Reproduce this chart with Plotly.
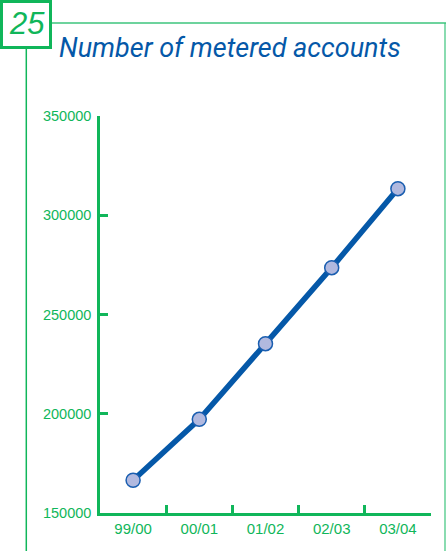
import plotly.graph_objects as go

years = ["99/00", "00/01", "01/02", "02/03", "03/04"]
accounts = [166500, 197200, 235300, 273600, 313400]
y_ticks = [150000, 200000, 250000, 300000, 350000]

W, H = 446, 551
L, R, T, B = 100, 15, 116, 38
PW, PH = W - L - R, H - T - B

GREEN = "#10b65a"
LGREEN = "#3cc47c"
BLUE = "#0558a8"

def px(x):
    return (x - L) / PW

def py(y):
    return 1 - (y - T) / PH

fig = go.Figure()
fig.add_trace(go.Scatter(
    x=years, y=accounts, mode="lines+markers",
    line=dict(color=BLUE, width=5.5),
    marker=dict(size=14, color="#b1b9df", line=dict(color="#1a5eb0", width=1.5)),
    cliponaxis=False, showlegend=False,
))

shapes = [
    dict(type="rect", xref="paper", yref="paper", x0=px(1.5), x1=px(50.5), y0=py(1.5), y1=py(47.5),
         line=dict(color=GREEN, width=3)),
    dict(type="line", xref="paper", yref="paper", x0=px(52), x1=px(446), y0=py(23), y1=py(23),
         line=dict(color=LGREEN, width=1.5)),
    dict(type="line", xref="paper", yref="paper", x0=px(445), x1=px(445), y0=py(23), y1=py(551),
         line=dict(color=LGREEN, width=1.2)),
    dict(type="line", xref="paper", yref="paper", x0=px(26.3), x1=px(26.3), y0=py(49), y1=py(551),
         line=dict(color=GREEN, width=1.5)),
]

annotations = [
    dict(text="25", xref="paper", yref="paper", x=px(27), y=py(23), xanchor="center", yanchor="middle",
         showarrow=False, font=dict(family="Liberation Sans", size=31, color=GREEN, style="italic")),
    dict(text="Number of metered accounts", xref="paper", yref="paper", x=px(57), y=py(48),
         xanchor="left", yanchor="middle", showarrow=False,
         font=dict(family="Roboto", size=27, color=BLUE, style="italic")),
]

fig.update_layout(
    width=W, height=H, margin=dict(l=L, r=R, t=T, b=B),
    paper_bgcolor="white", plot_bgcolor="white",
    shapes=shapes, annotations=annotations,
    font=dict(family="Liberation Sans", size=14, color=GREEN),
    xaxis=dict(type="category", range=[-0.5, 4.5], tickson="boundaries", ticks="inside",
               ticklen=8, tickwidth=2.5, tickcolor=GREEN, showline=True, linecolor=GREEN,
               linewidth=2.5, showgrid=False, zeroline=False,
               tickfont=dict(size=15, color=GREEN)),
    yaxis=dict(range=[150000, 350000], tickvals=y_ticks, tickformat="d", ticks="inside",
               ticklen=8, tickwidth=2.5, tickcolor=GREEN, showline=True, linecolor=GREEN,
               linewidth=2.5, showgrid=False, zeroline=False, ticklabelstandoff=3,
               tickfont=dict(size=14.5, color=GREEN)),
)

fig.write_html("out.html")
